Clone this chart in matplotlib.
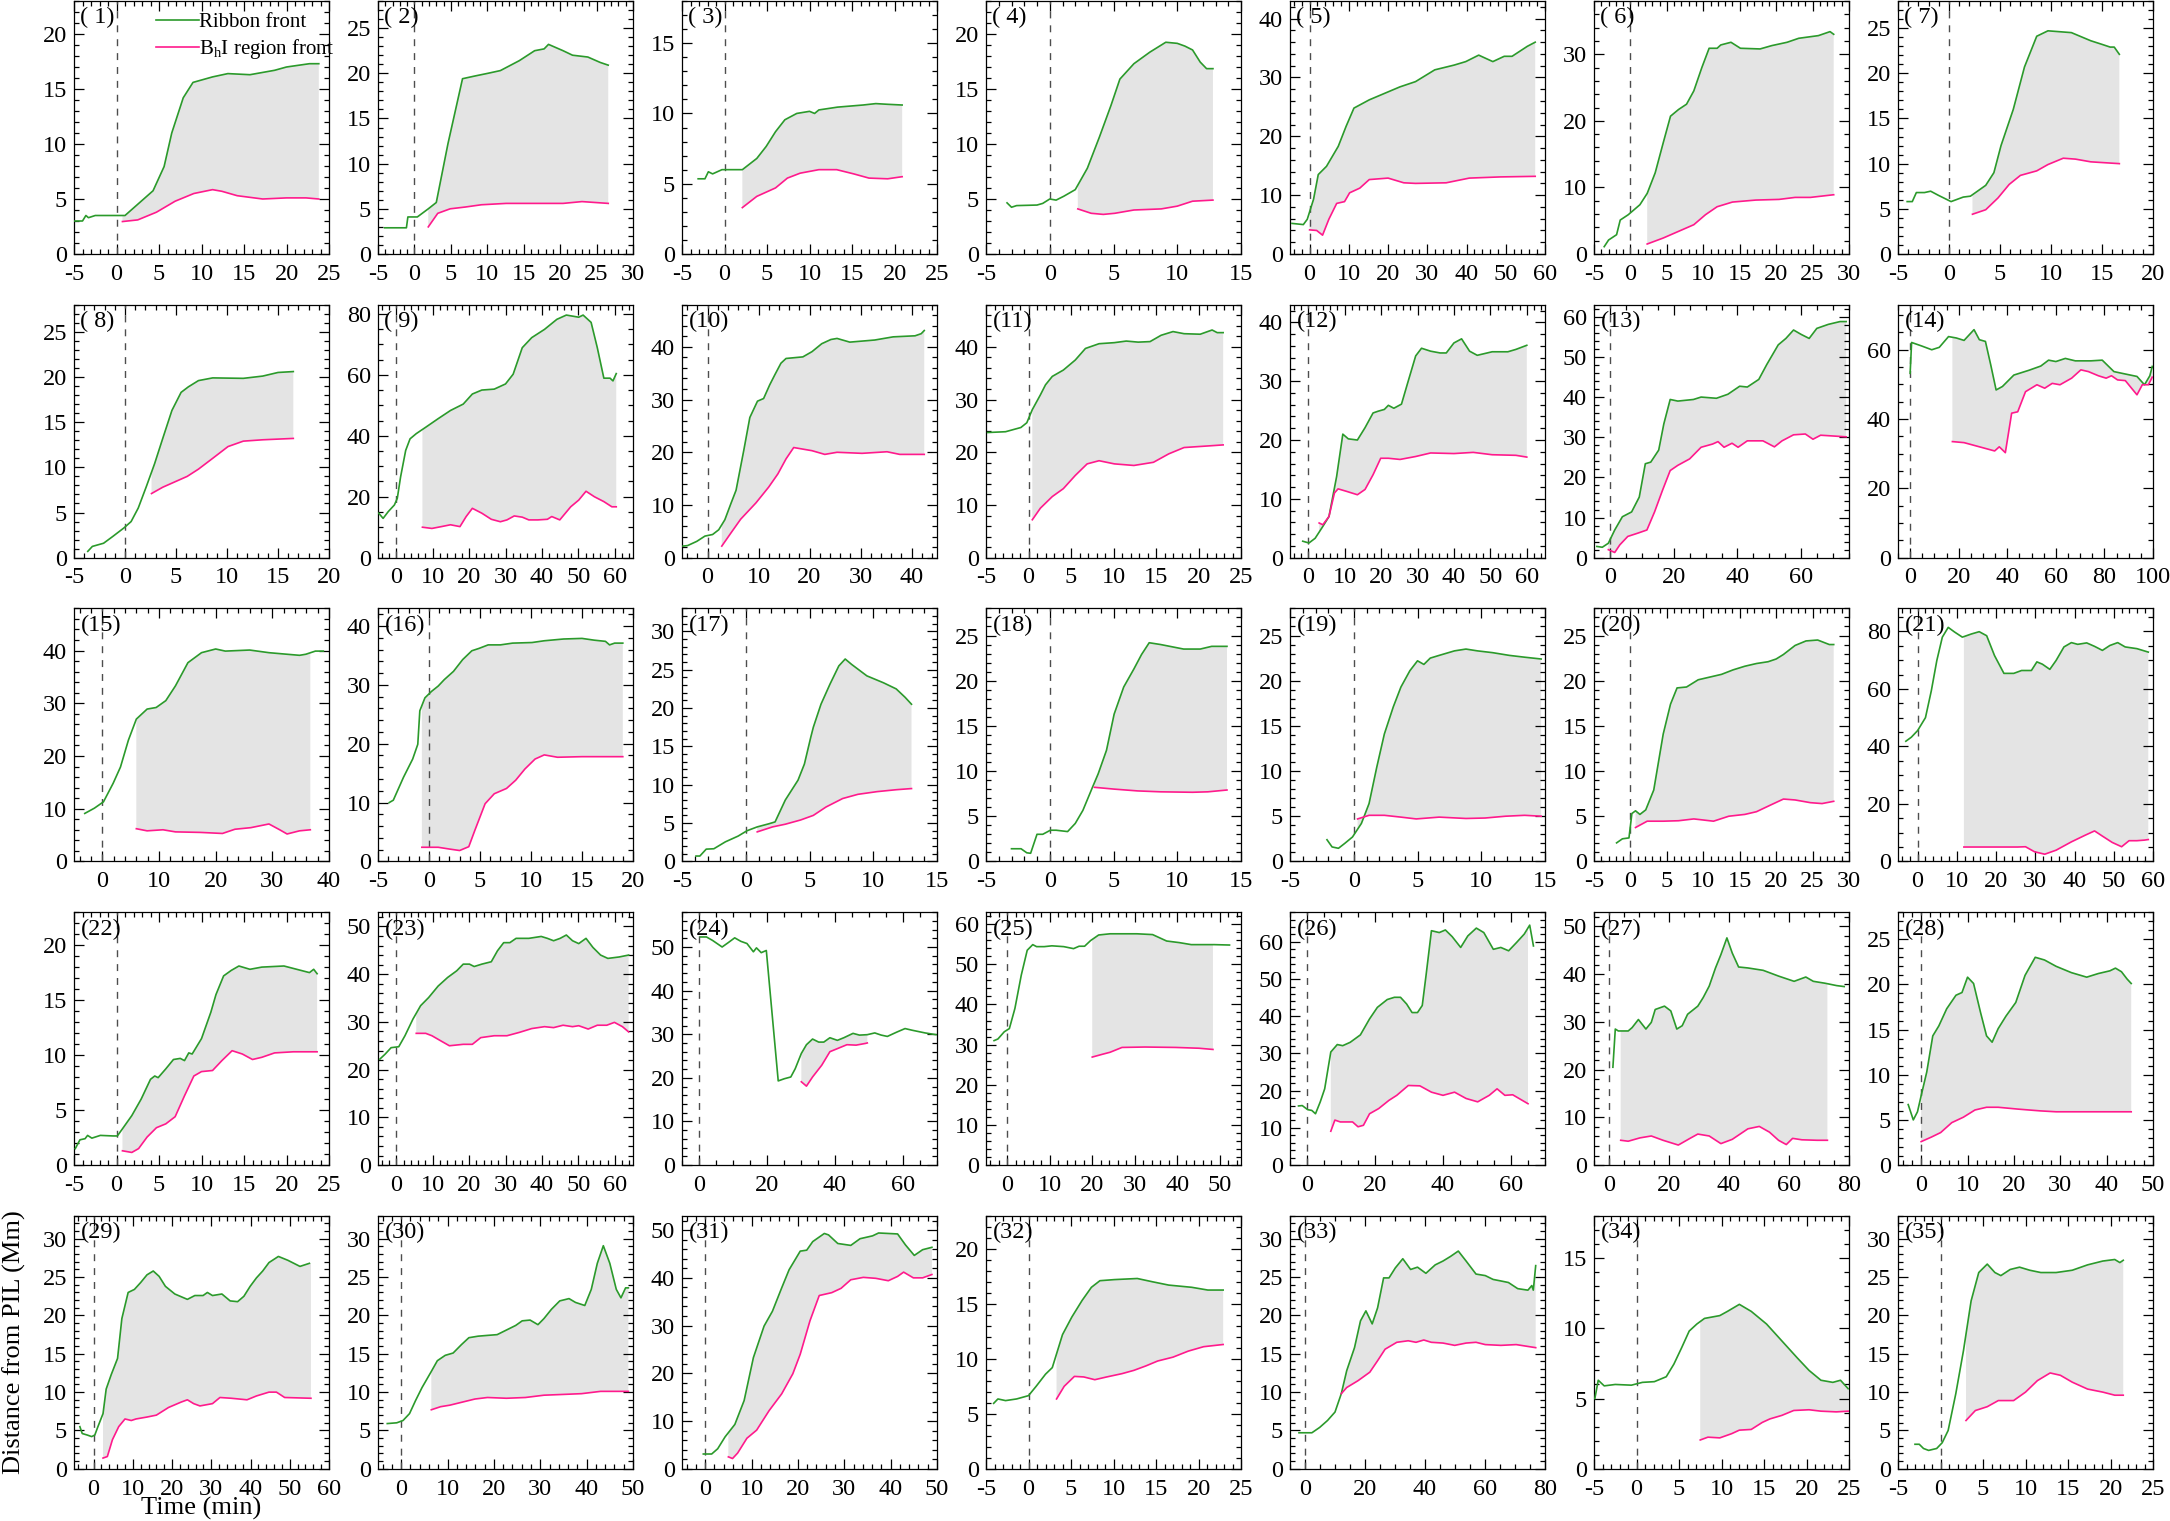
import numpy as np
import matplotlib
matplotlib.use("Agg")
import matplotlib.pyplot as plt
from matplotlib.ticker import MultipleLocator, AutoMinorLocator

plt.rcParams["font.family"] = ["Liberation Serif", "DejaVu Serif"]
plt.rcParams["mathtext.fontset"] = "custom"
plt.rcParams["mathtext.rm"] = "Liberation Serif"
plt.rcParams["mathtext.it"] = "Liberation Serif:italic"
plt.rcParams["axes.unicode_minus"] = False

# ---- ribbon front (g) and BhI region front (m): time (min), distance (Mm) ----
g01t = [-5, -4, -3.6, -3.3, -2.5, 0, 1.0, 4.3, 5.6, 6.5, 7.85, 9, 11.3, 13.1, 15.7, 18.6, 20, 22.7, 23.8]
g01y = [3.0, 3.0, 3.5, 3.3, 3.5, 3.5, 3.5, 5.75, 7.95, 11, 14.2, 15.6, 16.1, 16.4, 16.3, 16.7, 17.0, 17.3, 17.3]
m01t = [0.7, 2.5, 4.7, 6.9, 9.1, 11.3, 12.4, 14.2, 17.2, 20, 22.3, 23.8]
m01y = [2.95, 3.1, 3.8, 4.8, 5.5, 5.85, 5.7, 5.3, 5.0, 5.1, 5.1, 5.0]

g02t = [-4.1, -1.1, -0.9, 0.4, 1.9, 3, 4.6, 6.6, 8.3, 10.1, 11.8, 14.4, 16.5, 17.8, 18.4, 20.4, 21.7, 23.8, 25.5, 26.6]
g02y = [2.9, 2.9, 4.1, 4.1, 5.0, 5.7, 12.2, 19.4, 19.7, 20.0, 20.3, 21.4, 22.5, 22.7, 23.2, 22.5, 22.0, 21.8, 21.2, 20.9]
m02t = [1.9, 3.2, 4.9, 7.0, 9.2, 12.6, 17.8, 20.4, 23, 26.6]
m02y = [3.0, 4.5, 5.0, 5.2, 5.45, 5.6, 5.6, 5.6, 5.8, 5.6]

g03t = [-3.1, -2.3, -1.9, -1.4, -0.3, 2.1, 3.8, 4.9, 6, 7.1, 8.5, 10, 10.6, 11.1, 13.3, 16.3, 17.8, 19.2, 20.9]
g03y = [5.35, 5.35, 5.85, 5.7, 6.0, 6.0, 6.8, 7.65, 8.7, 9.55, 10.0, 10.15, 10.0, 10.25, 10.45, 10.6, 10.7, 10.65, 10.6]
m03t = [2.1, 3.8, 6, 7.4, 8.9, 11.1, 13.2, 15.2, 17, 19.2, 20.9]
m03y = [3.3, 4.1, 4.7, 5.4, 5.75, 6.0, 6.0, 5.7, 5.4, 5.35, 5.5]

g04t = [-3.35, -3, -2.6, -1, -0.55, 0, 0.5, 1.1, 2, 2.95, 3.9, 4.8, 5.5, 6.6, 7.85, 9.1, 10, 10.6, 11.2, 11.8, 12.3, 12.8]
g04y = [4.65, 4.25, 4.4, 4.45, 4.6, 5.0, 4.9, 5.25, 5.85, 7.8, 10.65, 13.5, 15.9, 17.3, 18.35, 19.25, 19.15, 18.9, 18.55, 17.45, 16.85, 16.85]
m04t = [2.2, 3.25, 4.2, 5.1, 6.6, 8.75, 10, 11.2, 12.8]
m04y = [4.1, 3.7, 3.6, 3.7, 4.0, 4.1, 4.35, 4.8, 4.9]

g05t = [-4.5, -1.6, -0.6, 1, 2.2, 4.3, 7.3, 9.3, 11.3, 15.2, 19.1, 23, 27, 31.9, 36.8, 39.8, 43.1, 46.7, 49.6, 51.6, 55.5, 57.5]
g05y = [5.2, 5.0, 5.9, 9.3, 13.5, 14.9, 18.3, 21.7, 24.8, 26.2, 27.3, 28.4, 29.3, 31.3, 32.1, 32.7, 33.8, 32.7, 33.6, 33.6, 35.3, 36.0]
m05t = [0, 1.8, 3.3, 4.9, 6.9, 8.9, 10.2, 12.8, 15.2, 20, 24, 27, 34.8, 40.7, 48.6, 57.5]
m05y = [4.1, 4.0, 3.2, 5.9, 8.6, 8.9, 10.4, 11.2, 12.65, 12.9, 12.1, 12.0, 12.1, 12.9, 13.1, 13.2]

g06t = [-3.6, -3, -1.9, -1.4, -0.3, 1.3, 2.3, 3.4, 4.5, 5.5, 6.6, 7.7, 8.7, 9.8, 10.8, 11.9, 12.4, 13.8, 15.1, 17.8, 19.4, 21.5, 23.1, 25.8, 27.4, 27.9]
g06y = [1.1, 2.1, 2.9, 5.1, 5.9, 7.4, 9.1, 12.2, 16.7, 20.7, 21.7, 22.5, 24.5, 28, 30.9, 30.9, 31.4, 31.8, 30.9, 30.8, 31.3, 31.8, 32.4, 32.8, 33.4, 33.0]
m06t = [2.3, 4.5, 6.6, 8.7, 10.3, 11.9, 14, 17.2, 20.4, 22.6, 24.7, 27.9]
m06y = [1.5, 2.4, 3.4, 4.4, 5.9, 7.1, 7.8, 8.1, 8.2, 8.5, 8.5, 8.9]

g07t = [-4.1, -3.6, -3.2, -2.4, -1.8, -1.05, 0.2, 1.4, 2.1, 3.6, 4.4, 5.1, 6.3, 7.4, 8.6, 9.7, 12, 13.9, 15, 15.8, 16.2, 16.7]
g07y = [5.8, 5.8, 6.8, 6.8, 6.95, 6.5, 5.8, 6.3, 6.4, 7.6, 9.0, 12, 16, 20.7, 24.1, 24.7, 24.5, 23.6, 23.2, 22.9, 22.9, 22.1]
m07t = [2.3, 3.6, 4.8, 5.9, 7.0, 8.6, 9.7, 11.2, 12.4, 13.9, 16.7]
m07y = [4.4, 4.9, 6.2, 7.7, 8.7, 9.2, 9.9, 10.6, 10.5, 10.2, 10.0]

g08t = [-3.65, -3.2, -2.1, -1.2, -0.1, 0.6, 1.3, 2.1, 2.9, 3.7, 4.6, 5.5, 6.2, 7.2, 8.6, 11.6, 13.5, 15, 16.5]
g08y = [0.7, 1.25, 1.6, 2.35, 3.3, 4.0, 5.5, 7.9, 10.4, 13.2, 16.3, 18.3, 18.9, 19.6, 19.9, 19.85, 20.1, 20.5, 20.6]
m08t = [2.6, 3.7, 4.9, 6.1, 7.2, 8.6, 10.1, 11.6, 13.5, 16.5]
m08y = [7.1, 7.8, 8.4, 9.0, 9.8, 11.0, 12.3, 12.9, 13.05, 13.2]

g09t = [-4.8, -3.6, -2.2, -0.5, 0.3, 1.2, 2.6, 3.8, 5.5, 8.1, 11.5, 14.9, 18.4, 20.9, 23.5, 26.9, 30, 32.1, 34.6, 37.2,
        40.7, 44.1, 46.7, 50.1, 51.3, 53.5, 55.2, 57, 58.7, 59.5, 60.4]
g09y = [14.6, 12.9, 15.1, 17.3, 19.5, 26.5, 35.2, 39, 40.7, 42.8, 45.6, 48.3, 50.4, 53.7, 55, 55.3, 57, 60.2, 68.9, 72.2,
        74.9, 78.2, 79.6, 78.9, 79.6, 77.2, 68.9, 58.9, 58.9, 58, 60.4]
m09t = [7.2, 9.8, 12.4, 14.9, 17.5, 19.2, 20.9, 23.5, 26.1, 28.6, 30.4, 32.4, 34.6, 36.4, 38.9, 41.5, 42.7, 44.9, 47.9,
        50.1, 52.1, 54.4, 57, 59.2, 60.4]
m09y = [10, 9.6, 10.2, 10.8, 10.2, 13.5, 16.2, 14.6, 12.6, 11.8, 12.4, 13.7, 13.3, 12.4, 12.4, 12.6, 13.5, 12.4, 16.7,
        18.9, 21.8, 20, 18.4, 16.7, 16.7]

g10t = [-4.8, -3.9, -2.1, -0.5, 1, 2.2, 3.4, 4.6, 5.6, 7.1, 8.3, 9.8, 11, 12.2, 13.2, 14.4, 15.4, 18.7, 20.5, 22.4, 24.2,
        25.4, 27.9, 32.8, 36.4, 40.7, 41.9, 42.5]
g10y = [2.2, 2.3, 3.1, 4.1, 4.4, 5.3, 7.2, 10.3, 12.8, 20.3, 26.6, 29.7, 30.2, 32.8, 34.7, 36.9, 37.8, 38.1, 39.1, 40.6,
        41.4, 41.6, 40.9, 41.3, 41.9, 42.1, 42.5, 43.1]
m10t = [2.8, 4.6, 6.5, 9.5, 12, 13.8, 15.4, 16.9, 18.7, 20.5, 23, 25.4, 30.3, 35.2, 37.7, 42.5]
m10y = [2.2, 4.7, 7.3, 10.4, 13.4, 15.9, 18.75, 20.9, 20.6, 20.3, 19.6, 20, 19.8, 20.1, 19.6, 19.6]

g11t = [-4.8, -2.7, -0.9, -0.2, 0.45, 1.4, 2, 2.8, 4.1, 5.5, 6.7, 8.3, 10.1, 11.5, 12.9, 14.3, 15.6, 17, 18.3, 20.2,
        21.6, 22.2, 22.9]
g11y = [23.75, 23.9, 24.7, 25.6, 28.1, 30.9, 32.8, 34.4, 35.6, 37.5, 39.7, 40.6, 40.8, 41.1, 40.9, 41, 42.2, 42.9, 42.5,
        42.4, 43.2, 42.7, 42.7]
m11t = [0.45, 1.4, 2.8, 4.1, 5.5, 6.9, 8.3, 10.1, 12.4, 14.7, 16.5, 18.3, 21.1, 22.9]
m11y = [7.2, 9.4, 11.6, 13.1, 15.6, 17.8, 18.4, 17.8, 17.5, 18.1, 19.7, 20.9, 21.2, 21.4]

g12t = [-1.5, 0.2, 1.9, 4, 5.7, 7.8, 9.5, 11, 13.5, 15.6, 17.8, 19.2, 20.9, 22, 23.5, 25.6, 27.3, 29.5, 31.1, 33.6, 36.2,
        37.9, 40, 42.1, 44.3, 46.4, 50.5, 54.8, 57, 60]
g12y = [2.8, 2.5, 3.3, 5.3, 7, 13.8, 21, 20.2, 20, 22.1, 24.6, 24.9, 25.2, 25.9, 25.4, 26.1, 29.7, 34.3, 35.6, 35.1,
        34.8, 34.8, 36.5, 37.2, 35.1, 34.4, 35, 35, 35.4, 36.1]
m12t = [3, 4, 5.7, 7.2, 8.2, 10.4, 13.5, 15.6, 17.8, 19.9, 22, 25.2, 29.5, 33.6, 40, 45.3, 50.5, 57, 60]
m12y = [5.9, 5.6, 7.0, 11, 11.7, 11.3, 10.7, 11.6, 14.1, 16.9, 16.9, 16.7, 17.2, 17.8, 17.7, 17.9, 17.5, 17.4, 17.1]

g13t = [-4.1, -2.4, -0.5, 1.5, 3.9, 6.8, 9.2, 11.1, 12.8, 15.3, 16.9, 18.9, 21.3, 26.2, 28.6, 33.4, 37, 40.7, 43.1, 46.7,
        49.2, 52.8, 55.2, 57.6, 60, 62.5, 64.9, 68.5, 72.2, 74.1]
g13y = [2.8, 2.6, 3.6, 6.9, 10.2, 11.4, 15.1, 23.4, 23.8, 26.8, 33.3, 39.4, 39, 39.4, 40, 39.7, 40.7, 42.7, 42.5, 44.4,
        48.1, 53, 54.6, 56.7, 55.6, 54.6, 57.1, 58.1, 58.8, 58.8]
m13t = [-0.5, 1.5, 3.1, 5.6, 8.7, 11.6, 14, 16.5, 18.9, 21.3, 25, 28.6, 32.2, 33.9, 35.8, 38.3, 40.2, 43.1, 48, 51.6,
        54, 57.6, 61.3, 63.7, 66.1, 74.1]
m13y = [2, 1.3, 3.2, 5.3, 6.1, 6.9, 11.4, 16.8, 21.7, 23, 24.6, 27.5, 28.3, 28.9, 27.5, 28.5, 27.5, 29.1, 29.1, 27.6,
        29.1, 30.6, 30.8, 29.5, 30.5, 30.1]

g14t = [0, 0.6, 4.7, 8.9, 12, 15.8, 19, 22.2, 26.3, 28.5, 31, 33.2, 35.4, 38, 42.7, 49, 53.8, 57, 60, 63.9, 68, 74.4,
        79.1, 83.9, 88.6, 93.4, 96.5, 98.7, 99.7]
g14y = [53.2, 62.1, 61.1, 60, 60.7, 63.8, 63.4, 62.7, 65.8, 62.9, 62.4, 55.6, 48.4, 49.4, 52.7, 54.1, 55.3, 57, 56.6,
        57.5, 56.8, 56.8, 57, 53.7, 53, 52.3, 49.9, 52.5, 55.2]
m14t = [17.4, 22.2, 28.5, 34.8, 36.7, 39.2, 41.8, 44.3, 47.5, 52.2, 55.4, 58.5, 61.7, 66.5, 70.3, 73.4, 77.5, 80.7,
        82.9, 85.4, 88.6, 93.4, 95.6, 98.1, 99.7]
m14y = [33.5, 33.2, 32, 30.8, 32, 30.3, 41.7, 42.1, 47.9, 49.9, 48.9, 50.3, 49.9, 51.8, 54.2, 53.7, 52.5, 51.8, 52.5,
        51.3, 51.1, 47, 49.9, 49.9, 52.1]

g15t = [-3.1, -1.4, 0.2, 1.9, 3.2, 4.6, 6, 7.9, 9.5, 11.2, 12.9, 15.1, 17.5, 20, 21.7, 26, 29.4, 32.6, 34.8, 35.9, 37.6, 39]
g15y = [9.1, 10.1, 11.3, 14.8, 17.9, 23, 27, 28.9, 29.2, 30.5, 33.3, 37.7, 39.6, 40.3, 39.9, 40.1, 39.6, 39.3, 39.1,
        39.3, 39.9, 39.9]
m15t = [6, 7.9, 10.7, 12.9, 17.3, 21.2, 23.4, 26.2, 29.4, 31.3, 32.6, 34.8, 36.7]
m15y = [6.2, 5.8, 6, 5.6, 5.5, 5.3, 6.1, 6.4, 7.1, 6, 5.2, 5.8, 6]

g16t = [-3.9, -3.5, -2.5, -1.6, -1.1, -0.9, -0.4, 0.25, 0.9, 1.5, 2.4, 3.3, 4.2, 4.9, 5.8, 7, 8.2, 10.1, 11.3, 13.2, 15,
        16.2, 17.3, 17.7, 18.2, 19]
g16y = [10, 10.4, 14.3, 17.4, 19.9, 25.6, 27.8, 28.9, 29.8, 30.9, 32.3, 34.3, 35.8, 36.2, 36.8, 36.8, 37.1, 37.2, 37.5,
        37.8, 37.9, 37.6, 37.4, 36.8, 37.1, 37.1]
m16t = [-0.7, 0.9, 2, 3, 3.9, 4.5, 5.5, 6.4, 7.6, 8.5, 9.4, 10.4, 11.3, 12.6, 15, 19]
m16y = [2.4, 2.4, 2.1, 1.85, 2.5, 5.3, 9.8, 11.5, 12.4, 13.8, 15.7, 17.4, 18.1, 17.7, 17.8, 17.8]

g17t = [-3.9, -3.6, -3.1, -2.5, -1.6, -0.6, 0.1, 0.9, 1.8, 2.3, 3.1, 4.1, 4.6, 5.1, 5.3, 5.9, 6.6, 7.3, 7.8, 8.3, 9.5,
        10.8, 11.8, 12.5, 13]
g17y = [0.7, 0.7, 1.6, 1.65, 2.55, 3.3, 4, 4.5, 4.9, 5.15, 8, 10.6, 12.7, 16.2, 17.5, 20.5, 23.1, 25.5, 26.4, 25.7,
        24.2, 23.3, 22.5, 21.4, 20.5]
m17t = [0.9, 2.1, 3.1, 4.3, 5.3, 6.3, 7.6, 8.8, 10.3, 11.8, 13]
m17y = [3.85, 4.5, 4.85, 5.4, 6, 7.1, 8.2, 8.75, 9.1, 9.35, 9.5]

g18t = [-3, -2.25, -1.8, -1.5, -1, -0.55, 0.05, 0.5, 1.4, 2, 2.6, 3.35, 3.8, 4.45, 5.05, 5.8, 6.6, 7.2, 7.8, 8.7, 10.5,
        11.8, 12.7, 13.9]
g18y = [1.4, 1.4, 0.95, 0.9, 3, 3, 3.45, 3.45, 3.3, 4.2, 5.65, 8.2, 9.7, 12.3, 16.3, 19.3, 21.3, 22.9, 24.2, 24.0,
        23.5, 23.5, 23.8, 23.8]
m18t = [3.5, 5.05, 6.9, 8.7, 11.2, 12.4, 13.9]
m18y = [8.2, 8.0, 7.8, 7.7, 7.65, 7.7, 7.9]

g19t = [-2.1, -1.7, -1.2, -0.7, -0.1, 0.6, 1.2, 1.8, 2.4, 3.1, 3.7, 4.4, 5, 5.5, 6, 6.7, 7.9, 8.8, 9.7, 10.9, 12.2,
        13.4, 14.7]
g19y = [2.4, 1.6, 1.45, 2, 2.7, 4.2, 6.4, 10.4, 14.1, 17.1, 19.3, 21.1, 22.2, 21.8, 22.5, 22.8, 23.3, 23.5, 23.3, 23.1,
        22.8, 22.6, 22.4]
m19t = [0.3, 1.2, 2.4, 3.7, 4.9, 6.7, 8.8, 10.3, 11.9, 13.4, 14.7]
m19y = [4.7, 5.1, 5.1, 4.9, 4.7, 4.9, 4.75, 4.8, 5.0, 5.1, 5.0]

g20t = [-1.9, -1.1, -0.2, 0.2, 0.7, 1.3, 2.1, 3.2, 4.5, 5.5, 6.4, 7.7, 9.3, 10.9, 12.5, 14.1, 15.7, 17.3, 18.9, 20, 21,
        22.6, 24.1, 25.7, 27.3, 27.9]
g20y = [2.05, 2.5, 2.6, 5.3, 5.6, 5.2, 5.7, 7.9, 14.1, 17.4, 19.2, 19.3, 20.1, 20.4, 20.7, 21.2, 21.6, 21.9, 22.1, 22.4,
        22.9, 23.9, 24.4, 24.5, 24, 24]
m20t = [0.7, 2.3, 4.5, 6.6, 8.7, 9.8, 11.4, 13.5, 15.7, 17.3, 19.4, 21, 22.6, 24.7, 26.3, 27.9]
m20y = [3.75, 4.45, 4.45, 4.5, 4.7, 4.6, 4.45, 5, 5.2, 5.5, 6.3, 6.9, 6.8, 6.5, 6.4, 6.65]

g21t = [-3, -1.6, 0, 2, 3.5, 4.9, 6.3, 7.8, 9.4, 11.4, 13.7, 15.7, 17.6, 19.6, 22, 24.5, 26.5, 29, 30.4, 31.8, 33.7,
        35.3, 37.3, 39.2, 40.8, 43.1, 45.1, 47.1, 49, 51, 52.9, 55.9, 58.8]
g21y = [41.8, 43.2, 45.5, 50, 59.4, 69.9, 78, 81.4, 79.8, 78, 79.1, 79.9, 78.5, 71.6, 65.4, 65.4, 66.4, 66.4, 69.4,
        68.6, 66.8, 69.9, 74.6, 76.1, 75.5, 76, 74.8, 73.4, 75.1, 76.1, 74.6, 74, 72.8]
m21t = [11.8, 25.5, 27.5, 29.8, 32.4, 35.3, 39.2, 42.7, 45.1, 47.1, 49.6, 52, 53.9, 55.9, 57.8, 58.8]
m21y = [5, 5, 5.1, 3.35, 2.5, 3.9, 6.8, 9.1, 10.6, 8.8, 6.6, 5.1, 7.2, 7.2, 7.4, 7.6]

g22t = [-4.85, -4.3, -3.7, -3.4, -2.9, -1.9, -0.4, 0.1, 0.7, 1.8, 2.9, 4, 4.5, 4.9, 5.8, 6.7, 7.5, 8, 8.5, 8.9, 10,
        11.1, 11.7, 12.6, 13.5, 14.4, 15.7, 17.1, 19.7, 21.2, 22.7, 23.2, 23.6]
g22y = [1.5, 2.3, 2.4, 2.7, 2.45, 2.7, 2.65, 2.65, 3.3, 4.5, 6, 7.8, 8.1, 7.95, 8.75, 9.6, 9.7, 9.5, 10.2, 10.1, 11.5,
        13.9, 15.5, 17.2, 17.7, 18.1, 17.8, 18, 18.1, 17.8, 17.5, 17.8, 17.4]
m22t = [0.7, 1.8, 2.6, 3.6, 4.7, 5.8, 6.9, 8, 9.1, 10, 11.3, 12.4, 13.6, 14.8, 16, 17.1, 18.6, 20.8, 23.6]
m22y = [1.3, 1.15, 1.5, 2.55, 3.4, 3.75, 4.4, 6.3, 8.1, 8.5, 8.6, 9.5, 10.4, 10.1, 9.6, 9.8, 10.2, 10.3, 10.3]

g23t = [-4.5, -3.1, -1.4, 0.7, 2.4, 4.6, 6.7, 8.9, 11.5, 14.1, 16.6, 18.4, 20.1, 21.4, 23.5, 26.1, 27.8, 29.5, 31.2,
        32.9, 36.4, 39.8, 41.5, 43.2, 45, 46.7, 48.4, 50.1, 52.1, 54, 56.1, 58.1, 61.2, 63.8]
g23y = [22.2, 23.2, 24.6, 24.8, 27.1, 30.6, 33.4, 35.1, 37.5, 39.3, 40.7, 42.1, 42.1, 41.6, 42.1, 42.6, 44.9, 46.6,
        46.6, 47.5, 47.5, 47.9, 47.5, 47, 47.5, 48.2, 47, 46.4, 47.5, 45.6, 44, 43.3, 43.6, 44]
m23t = [5.5, 8.1, 9.8, 12.3, 14.6, 18.4, 20.9, 23.2, 26.9, 30.4, 33.8, 37.2, 40.7, 43.2, 45.8, 48.4, 50.1, 52.7, 55.2,
        57.8, 59.9, 62.1, 63.8]
m23y = [27.6, 27.6, 27.1, 26, 25, 25.3, 25.3, 26.7, 27.1, 27.1, 27.8, 28.6, 29, 28.8, 29.3, 29, 29.2, 28.5, 29.3, 29.3,
        29.9, 29, 27.9]

g24t = [0.4, 2.2, 4, 6.8, 8.6, 10.5, 12.3, 14.1, 16, 16.9, 18.3, 19.8, 23.3, 25.1, 27, 28.3, 30.1, 31.6, 33.4, 35.2,
        36.7, 38.5, 40.7, 42.6, 45.3, 47.2, 49.5, 51.7, 53.6, 55.4, 58.2, 60.6, 62.8, 66.5, 69.7]
g24y = [52.3, 52.3, 51.5, 50, 51, 52.1, 51.3, 50.8, 48.9, 49.8, 48.7, 49.2, 19.3, 19.8, 20.2, 22.1, 25.6, 27.6, 28.9,
        28.2, 28.2, 29.2, 28.6, 29.2, 30.2, 29.8, 29.9, 30.3, 29.8, 29.5, 30.5, 31.3, 30.9, 30.3, 29.9]
m24t = [30.1, 31.6, 33.4, 36.1, 38.5, 40.7, 43.5, 46.2, 49, 49.5]
m24y = [19.1, 18.1, 20.2, 22.9, 26, 26.7, 27.6, 27.5, 27.9, 28.0]

g25t = [-3.1, -2.2, -0.7, 0.5, 1.8, 3.3, 4.7, 6, 6.9, 8.7, 10.5, 13.3, 15.6, 16.9, 18.2, 19.6, 21.5, 24.2, 30.5, 34.2,
        37.5, 40.5, 43.3, 48.7, 52.3]
g25y = [31, 31.4, 33.2, 34, 39, 47.3, 53.5, 54.9, 54.4, 54.4, 54.6, 54.4, 53.9, 54.5, 54.5, 55.9, 57.3, 57.6, 57.6,
        57.4, 55.8, 55.4, 54.9, 54.9, 54.8]
m25t = [20, 22.4, 24.2, 27, 32.4, 39.6, 45.1, 48.4]
m25y = [26.9, 27.6, 28.1, 29.3, 29.4, 29.3, 29.1, 28.8]

g26t = [-2.5, -1.4, 0.2, 1.4, 2.5, 3.9, 5.2, 7, 8.9, 10.5, 12.7, 15.7, 18.4, 20.7, 23.6, 25.7, 27.5, 29.3, 30.9, 32.5,
        33.9, 35, 36.6, 38.9, 40.7, 42.7, 45.2, 47.3, 49.8, 52, 54.8, 57, 59.3, 61.6, 63.9, 65.5, 66.6]
g26y = [15.9, 16, 14.9, 14.7, 13.8, 17, 20.5, 30.4, 32.4, 32.1, 33, 35, 39.3, 42.4, 44.5, 45.1, 45.1, 43.3, 41, 41,
        42.9, 50.9, 63, 62.5, 63.2, 61.4, 58.5, 61.6, 63.7, 62.5, 58, 58.5, 57.6, 59.8, 62.1, 64.5, 58.9]
m26t = [7, 8.2, 9.8, 11.6, 13.4, 15, 16.6, 18.4, 21.1, 24.1, 26.4, 29.8, 33.2, 36.6, 40, 43.4, 46.8, 50.2, 53.6, 55.9,
        58.2, 60.5, 65]
m26y = [9.1, 12.1, 11.6, 11.6, 11.6, 10.3, 10.7, 13.8, 15.2, 17.4, 18.75, 21.4, 21.3, 19.6, 18.75, 19.6, 17.9, 17,
        18.75, 20.5, 18.75, 18.9, 16.5]

g27t = [1.3, 2.1, 3.1, 6.4, 7.7, 9.8, 12.3, 14.1, 15.4, 18.5, 20.6, 22.6, 24.4, 26.2, 29.6, 31.4, 33.4, 35.5, 37.3,
        39.3, 41.1, 43.2, 46.3, 51.4, 56.5, 61.7, 65.6, 68.1, 72, 75.9, 78.4]
g27y = [20.5, 28.5, 28.1, 28.1, 28.8, 30.5, 28.5, 29.9, 32.6, 33.3, 32.3, 28.5, 29.2, 31.6, 33.3, 35.1, 37.5, 41.3,
        44.1, 47.6, 44.4, 41.5, 41.3, 40.8, 39.6, 38.5, 39.4, 38.5, 38.1, 37.6, 37.4]
m27t = [3.9, 6.4, 10.3, 14.1, 18, 23.1, 27, 29.6, 33.4, 37.3, 41.1, 46.3, 50.1, 53.5, 56.5, 59.1, 61.2, 64.3, 69.4, 72.8]
m27y = [5.2, 5, 5.7, 6.1, 5.2, 4.2, 5.6, 6.5, 6.1, 4.5, 5.4, 7.6, 8.1, 6.9, 5.2, 4.3, 5.6, 5.3, 5.2, 5.2]

g28t = [-2.8, -1.7, -0.8, 0, 1.2, 2.5, 3.8, 5.5, 7.5, 8.8, 10, 11.3, 12.8, 14.1, 15.3, 16.6, 18.3, 20.4, 22.4, 24.6,
        26.6, 29.1, 32.4, 35.7, 38.2, 40.7, 41.9, 43.2, 44.4, 45.3]
g28y = [6.7, 5.0, 5.9, 7.7, 10.3, 14.3, 15.4, 17.3, 18.8, 19.1, 20.8, 20.1, 16.9, 14.3, 13.6, 15.1, 16.5, 18, 21, 23,
        22.7, 22, 21.3, 20.8, 21.2, 21.5, 21.8, 21.4, 20.6, 20.1]
m28t = [0, 2.2, 4.2, 6.6, 9.1, 11.6, 14.1, 16.6, 20.8, 25.7, 29.1, 45.3]
m28y = [2.6, 3.1, 3.6, 4.7, 5.3, 6.1, 6.4, 6.4, 6.2, 6.0, 5.9, 5.9]

g29t = [-3.5, -2.9, -1.6, -0.5, 0.3, 1.1, 2.4, 3.2, 4.5, 6.1, 7.2, 8.8, 10.4, 12, 13.6, 15.2, 16.7, 18.3, 20.7, 23.9,
        25.8, 27.9, 29, 30.3, 32.7, 34.8, 36.7, 38.3, 39.9, 41.5, 43.1, 44.7, 47.1, 49.5, 52.6, 55]
g29y = [5.5, 4.6, 4.4, 4.2, 4.4, 5.5, 7.2, 10.4, 12.3, 14.4, 19.6, 23, 23.4, 24.3, 25.3, 25.8, 25.1, 23.8, 22.8, 22.1,
        22.6, 22.6, 23, 22.6, 22.8, 21.9, 21.8, 22.5, 23.8, 24.9, 25.8, 26.9, 27.7, 27.2, 26.4, 26.8]
m29t = [2.4, 3.5, 4.8, 6.4, 8, 9.6, 10.8, 13.6, 16, 19.1, 22.3, 23.9, 25.5, 27.1, 30.3, 32.2, 35.1, 39.1, 41.5, 44.7,
        46.6, 48.7, 55.4]
m29y = [1.4, 1.6, 3.8, 5.5, 6.5, 6.3, 6.5, 6.75, 7, 8, 8.7, 9, 8.5, 8.2, 8.5, 9.3, 9.2, 9, 9.5, 10, 10, 9.3, 9.2]

g30t = [-3, -0.95, 0.4, 1.8, 3.1, 4.5, 6.5, 7.8, 9.5, 11.2, 13, 14.6, 16.6, 18.6, 20.7, 22.7, 24.7, 26.1, 27.8, 29.5,
        30.8, 32.4, 34.2, 36.2, 37.6, 39.6, 41, 42.3, 43.6, 45, 46.4, 47.4, 48.4, 49]
g30y = [5.9, 6.0, 6.3, 7.2, 8.9, 10.6, 12.7, 14.1, 14.8, 15.1, 16.2, 17.1, 17.3, 17.4, 17.5, 18.1, 18.7, 19.3, 19.4,
        18.8, 19.6, 20.8, 21.9, 22.2, 21.7, 21.3, 23.4, 26.8, 29.1, 26.8, 23.4, 22.3, 23.6, 23.6]
m30t = [6.5, 8.5, 10.5, 13.2, 15.9, 18.6, 22.7, 26.8, 30.8, 34.9, 38.9, 43, 49]
m30y = [7.7, 8.1, 8.3, 8.7, 9.1, 9.3, 9.2, 9.3, 9.6, 9.7, 9.8, 10.1, 10.1]

g31t = [-0.4, 1.4, 2.7, 4.3, 6.4, 8.4, 10.4, 12.7, 14.5, 16.5, 18.1, 20.5, 21.9, 23.2, 25.7, 26.6, 28.6, 31.4, 33.4,
        36.1, 37.4, 41.5, 43.2, 45.1, 46.9, 48.9]
g31y = [3.1, 3.1, 4.2, 6.7, 9.3, 14.3, 23.3, 29.9, 33, 37.9, 41.7, 45.6, 45.8, 47.6, 49.3, 49, 47.2, 46.8, 48.2, 48.8,
        49.4, 49.2, 46.9, 44.7, 45.9, 46.4]
m31t = [5, 5.9, 7, 9, 11.1, 13.8, 16.5, 18.9, 20.5, 22.6, 24.6, 27.3, 29.3, 31.4, 34.1, 36.8, 39.5, 41.5, 42.8, 44.9,
        46.9, 48.9]
m31y = [2.5, 2.15, 3.3, 6.4, 8.1, 12.2, 15.7, 19.9, 24, 31, 36.3, 36.9, 37.8, 39.6, 40.1, 39.9, 39.4, 40.3, 41.2, 40,
        40, 40.7]

g32t = [-4.1, -3.6, -2.7, -1.4, 0, 0.9, 2, 2.8, 3.4, 4, 5.1, 6.3, 7.4, 8.4, 10.1, 12.8, 14.6, 16.5, 19.2, 21.1, 22.9]
g32y = [5.95, 6.35, 6.2, 6.35, 6.65, 7.5, 8.6, 9.2, 10.7, 12.2, 13.8, 15.3, 16.5, 17.1, 17.2, 17.3, 17, 16.7, 16.5,
        16.25, 16.25]
m32t = [3.3, 4.2, 5.4, 6.5, 7.8, 9.2, 11, 12.4, 13.8, 15.2, 17, 18.8, 20.6, 22.9]
m32y = [6.35, 7.5, 8.4, 8.35, 8.1, 8.35, 8.65, 8.95, 9.35, 9.8, 10.15, 10.7, 11.1, 11.3]

g33t = [-2, 2.3, 4.9, 7.5, 10, 12.1, 13.9, 16.5, 18.5, 20.3, 22.4, 24.2, 26.2, 28, 30.1, 32.6, 35.2, 37.5, 40.3, 43.4,
        46, 48.5, 51.1, 53.7, 57, 60.1, 62.7, 65.3, 67.8, 70.9, 74.3, 75.6, 76.1, 76.9]
g33y = [4.7, 4.7, 5.4, 6.3, 7.4, 9.8, 12.8, 15.8, 19.3, 20.6, 18.9, 21, 24.9, 24.9, 26.2, 27.4, 26, 26.3, 25.5, 26.6,
        27.1, 27.7, 28.4, 27.1, 25.4, 25.2, 24.7, 24.5, 24.3, 23.5, 23.3, 23.9, 23.3, 26.5]
m33t = [12.1, 13.9, 17.7, 21.6, 24.2, 26.7, 30.6, 34.4, 37, 39.6, 42.1, 46, 49.9, 53.7, 57, 60.1, 65.3, 70.4, 76.9]
m33y = [9.8, 10.6, 11.5, 12.6, 14.1, 15.6, 16.5, 16.7, 16.5, 16.8, 16.5, 16.4, 16.1, 16.4, 16.5, 16.2, 16.1, 16.2, 15.8]

g34t = [-4.9, -4.5, -3.8, -2.5, -0.6, 0.7, 2.1, 3.5, 4.4, 5.3, 6.2, 7.1, 8, 8.9, 9.8, 10.7, 12.1, 13.5, 15.3, 17.1,
        18.9, 20.3, 21.7, 23.1, 24, 24.9]
g34y = [5, 6.3, 5.9, 6, 5.95, 6.15, 6.2, 6.55, 7.45, 8.6, 9.8, 10.3, 10.7, 10.8, 10.9, 11.2, 11.7, 11.2, 10.3, 9.1,
        7.9, 7, 6.3, 6.15, 6.3, 5.7]
m34t = [7.5, 8.4, 9.8, 11.2, 12.1, 13.5, 14.8, 15.7, 17.1, 18.5, 20.3, 21.7, 23.5, 24.9]
m34y = [2.05, 2.25, 2.2, 2.5, 2.75, 2.8, 3.3, 3.55, 3.8, 4.15, 4.2, 4.1, 4.05, 4.1]

g35t = [-3, -2.5, -2, -1.4, -0.45, 0.2, 0.9, 1.8, 2.7, 3.6, 4.5, 5.5, 6.4, 7.1, 8.2, 9.3, 10.5, 11.8, 13.6, 15.5,
        17.3, 19.1, 20.5, 21.1, 21.5]
g35y = [3.2, 3.2, 2.65, 2.4, 2.65, 3.4, 5, 9.8, 15.4, 21.9, 25.6, 26.7, 25.6, 25.2, 26, 26.3, 25.9, 25.6, 25.6, 25.9,
        26.6, 27.1, 27.3, 26.9, 27.2]
m35t = [3, 4.1, 5.5, 6.8, 8.6, 10, 11.4, 12.9, 14.1, 15.5, 17.3, 19.1, 20.5, 21.5]
m35y = [6.3, 7.6, 8.1, 8.9, 8.9, 10, 11.5, 12.5, 12.2, 11.3, 10.4, 10, 9.6, 9.6]

# ---- axis ranges / tick spacing per panel ----
x_max = [25, 30, 25, 15, 60, 30, 20,
         20, 65, 45, 25, 65, 75, 100,
         40, 20, 15, 15, 15, 30, 60,
         25, 65, 70, 55, 70, 80, 50,
         60, 50, 50, 25, 80, 25, 25]
x_step = [5, 5, 5, 5, 10, 5, 5,
          5, 10, 10, 5, 10, 20, 20,
          10, 5, 5, 5, 5, 5, 10,
          5, 10, 20, 10, 20, 20, 10,
          10, 10, 10, 5, 20, 5, 5]
y_max = [23, 28, 18, 23, 43, 38, 28,
         28, 83, 48, 48, 43, 63, 73,
         48, 43, 33, 28, 28, 28, 88,
         23, 53, 58, 63, 68, 53, 28,
         33, 33, 53, 23, 33, 18, 33]
y_step = [5, 5, 5, 5, 10, 10, 5,
          5, 20, 10, 10, 10, 10, 20,
          10, 10, 5, 5, 5, 5, 20,
          5, 10, 10, 10, 10, 10, 5,
          5, 5, 10, 5, 5, 5, 5]

panels = [
    (g01t, g01y, m01t, m01y), (g02t, g02y, m02t, m02y), (g03t, g03y, m03t, m03y), (g04t, g04y, m04t, m04y),
    (g05t, g05y, m05t, m05y), (g06t, g06y, m06t, m06y), (g07t, g07y, m07t, m07y), (g08t, g08y, m08t, m08y),
    (g09t, g09y, m09t, m09y), (g10t, g10y, m10t, m10y), (g11t, g11y, m11t, m11y), (g12t, g12y, m12t, m12y),
    (g13t, g13y, m13t, m13y), (g14t, g14y, m14t, m14y), (g15t, g15y, m15t, m15y), (g16t, g16y, m16t, m16y),
    (g17t, g17y, m17t, m17y), (g18t, g18y, m18t, m18y), (g19t, g19y, m19t, m19y), (g20t, g20y, m20t, m20y),
    (g21t, g21y, m21t, m21y), (g22t, g22y, m22t, m22y), (g23t, g23y, m23t, m23y), (g24t, g24y, m24t, m24y),
    (g25t, g25y, m25t, m25y), (g26t, g26y, m26t, m26y), (g27t, g27y, m27t, m27y), (g28t, g28y, m28t, m28y),
    (g29t, g29y, m29t, m29y), (g30t, g30y, m30t, m30y), (g31t, g31y, m31t, m31y), (g32t, g32y, m32t, m32y),
    (g33t, g33y, m33t, m33y), (g34t, g34y, m34t, m34y), (g35t, g35y, m35t, m35y),
]

GREEN = "#2b9a2b"
PINK = "#ff1a8c"
SHADE = "#e4e4e4"

W, H = 2170, 1521
fig = plt.figure(figsize=(W / 100, H / 100), dpi=100)

for k, (gt, gy, mt, my) in enumerate(panels):
    row, col = divmod(k, 7)
    left = 74 + 304 * col
    bottom = 254 + 303.7 * row
    ax = fig.add_axes([left / W, 1 - bottom / H, 255 / W, 253 / H])

    gt, gy, mt, my = (np.asarray(a, dtype=float) for a in (gt, gy, mt, my))

    # shaded band between the two fronts over the BhI time span
    t0, t1 = mt[0], mt[-1]
    inside = (gt > t0) & (gt < t1)
    px = np.concatenate([[t0], gt[inside], [t1], mt[::-1]])
    py = np.concatenate([[np.interp(t0, gt, gy)], gy[inside], [np.interp(t1, gt, gy)], my[::-1]])
    ax.fill(px, py, color=SHADE, lw=0, zorder=1)

    ax.plot(gt, gy, color=GREEN, lw=1.2, zorder=3, label="Ribbon front")
    ax.plot(mt, my, color=PINK, lw=1.2, zorder=3, label=r"B$_{\rm h}$I region front")
    ax.axvline(0, color="0.3", lw=1.0, ls=(0, (5, 5)), zorder=2)

    ax.set_xlim(-5, x_max[k])
    ax.set_ylim(0, y_max[k])
    ax.xaxis.set_major_locator(MultipleLocator(x_step[k]))
    ax.yaxis.set_major_locator(MultipleLocator(y_step[k]))
    ax.xaxis.set_minor_locator(AutoMinorLocator())
    ax.yaxis.set_minor_locator(AutoMinorLocator())
    ax.tick_params(which="both", direction="in", top=True, right=True, labelsize=17.5, width=0.9)
    ax.tick_params(which="major", length=7, pad=5)
    ax.tick_params(axis="x", which="major", pad=7)
    ax.tick_params(which="minor", length=3.5)
    for sp in ax.spines.values():
        sp.set_linewidth(0.9)

    ax.text(0.025, 0.975, f"({k + 1:2d})", transform=ax.transAxes, ha="left", va="top", fontsize=17.5, zorder=4)

    if k == 0:
        ax.legend(loc="upper left", bbox_to_anchor=(0.32, 0.955), frameon=False, fontsize=15,
                  handlelength=2.1, handletextpad=0.0, borderaxespad=0.0, borderpad=0.0, labelspacing=0.25)

fig.text(201 / W, 1 - 1508 / H, "Time (min)", ha="center", va="center", fontsize=19)
fig.text(14 / W, 1 - 1342 / H, "Distance from PIL (Mm)", ha="center", va="center", rotation=90, fontsize=19)

fig.savefig("out.png", dpi=100)
